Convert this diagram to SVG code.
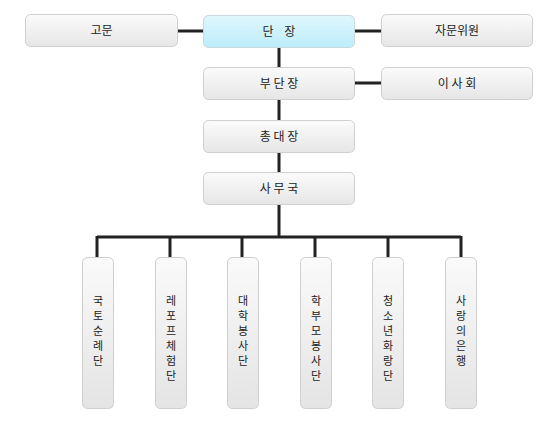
<svg xmlns="http://www.w3.org/2000/svg" width="558" height="425" viewBox="0 0 558 425">
<defs>
<linearGradient id="g" x1="0" y1="0" x2="0" y2="1">
<stop offset="0" stop-color="#fbfbfb"/><stop offset="1" stop-color="#e6e6e6"/>
</linearGradient>
<linearGradient id="gv" x1="0" y1="0" x2="0" y2="1">
<stop offset="0" stop-color="#fafafa"/><stop offset="1" stop-color="#e4e4e4"/>
</linearGradient>
<linearGradient id="gc" x1="0" y1="0" x2="0" y2="1">
<stop offset="0" stop-color="#dff7fd"/><stop offset="1" stop-color="#bdedfb"/>
</linearGradient>
</defs>
<style>
.b{fill:url(#g);stroke:#cfcfcf;stroke-width:1}
.v{fill:url(#gv);stroke:#cfcfcf;stroke-width:1}
.c{fill:url(#gc);stroke:#c8d8dc;stroke-width:1}
.t{font-family:"Noto Sans CJK KR","Noto Sans",sans-serif;font-size:12px;fill:#222;text-anchor:middle}
.s{font-family:"Noto Sans CJK KR","Noto Sans",sans-serif;font-size:11px;fill:#222;text-anchor:middle}
.l{stroke:#222;stroke-width:3;fill:none}
</style>
<rect width="558" height="425" fill="#fff"/>
<g id="connectors">
<path class="l" d="M177 31H203M354 31H381M279 47V237M354 83H381M97 237H461M97 236V257M170 236V257M242 236V257M315 236V257M388 236V257M461 236V257"/>
</g>
<g id="n-gomun"><rect class="b" x="25.5" y="14.5" width="152" height="32" rx="5"/><text class="t" x="101.5" y="35">고문</text></g>
<g id="n-danjang"><rect class="c" x="203.5" y="15.5" width="151" height="32" rx="5"/><text class="t" x="279" y="36" xml:space="preserve">단    장</text></g>
<g id="n-jamun"><rect class="b" x="381.5" y="14.5" width="151" height="32" rx="5"/><text class="t" x="457" y="35">자문위원</text></g>
<g id="n-budanjang"><rect class="b" x="203.5" y="67.5" width="151" height="32" rx="5"/><text class="t" x="279" y="88">부 단 장</text></g>
<g id="n-isahoe"><rect class="b" x="381.5" y="67.5" width="151" height="32" rx="5"/><text class="t" x="457" y="88">이 사 회</text></g>
<g id="n-chongdaejang"><rect class="b" x="203.5" y="120.5" width="151" height="32" rx="5"/><text class="t" x="279" y="141">총 대 장</text></g>
<g id="n-samuguk"><rect class="b" x="203.5" y="172.5" width="151" height="32" rx="5"/><text class="t" x="279" y="193">사 무 국</text></g>
<g id="n-c1"><rect class="v" x="82.5" y="257.5" width="31" height="151" rx="5"/>
<text class="s"><tspan x="98" y="305">국</tspan><tspan x="98" dy="15">토</tspan><tspan x="98" dy="15">순</tspan><tspan x="98" dy="15">례</tspan><tspan x="98" dy="15">단</tspan></text></g>
<g id="n-c2"><rect class="v" x="155.5" y="257.5" width="31" height="151" rx="5"/>
<text class="s"><tspan x="171" y="305">레</tspan><tspan x="171" dy="15">포</tspan><tspan x="171" dy="15">프</tspan><tspan x="171" dy="15">체</tspan><tspan x="171" dy="15">험</tspan><tspan x="171" dy="15">단</tspan></text></g>
<g id="n-c3"><rect class="v" x="227.5" y="257.5" width="31" height="151" rx="5"/>
<text class="s"><tspan x="243" y="305">대</tspan><tspan x="243" dy="15">학</tspan><tspan x="243" dy="15">봉</tspan><tspan x="243" dy="15">사</tspan><tspan x="243" dy="15">단</tspan></text></g>
<g id="n-c4"><rect class="v" x="300.5" y="257.5" width="31" height="151" rx="5"/>
<text class="s"><tspan x="316" y="305">학</tspan><tspan x="316" dy="15">부</tspan><tspan x="316" dy="15">모</tspan><tspan x="316" dy="15">봉</tspan><tspan x="316" dy="15">사</tspan><tspan x="316" dy="15">단</tspan></text></g>
<g id="n-c5"><rect class="v" x="372.5" y="257.5" width="31" height="151" rx="5"/>
<text class="s"><tspan x="388" y="305">청</tspan><tspan x="388" dy="15">소</tspan><tspan x="388" dy="15">년</tspan><tspan x="388" dy="15">화</tspan><tspan x="388" dy="15">랑</tspan><tspan x="388" dy="15">단</tspan></text></g>
<g id="n-c6"><rect class="v" x="445.5" y="257.5" width="31" height="151" rx="5"/>
<text class="s"><tspan x="461" y="305">사</tspan><tspan x="461" dy="15">랑</tspan><tspan x="461" dy="15">의</tspan><tspan x="461" dy="15">은</tspan><tspan x="461" dy="15">행</tspan></text></g>
</svg>
